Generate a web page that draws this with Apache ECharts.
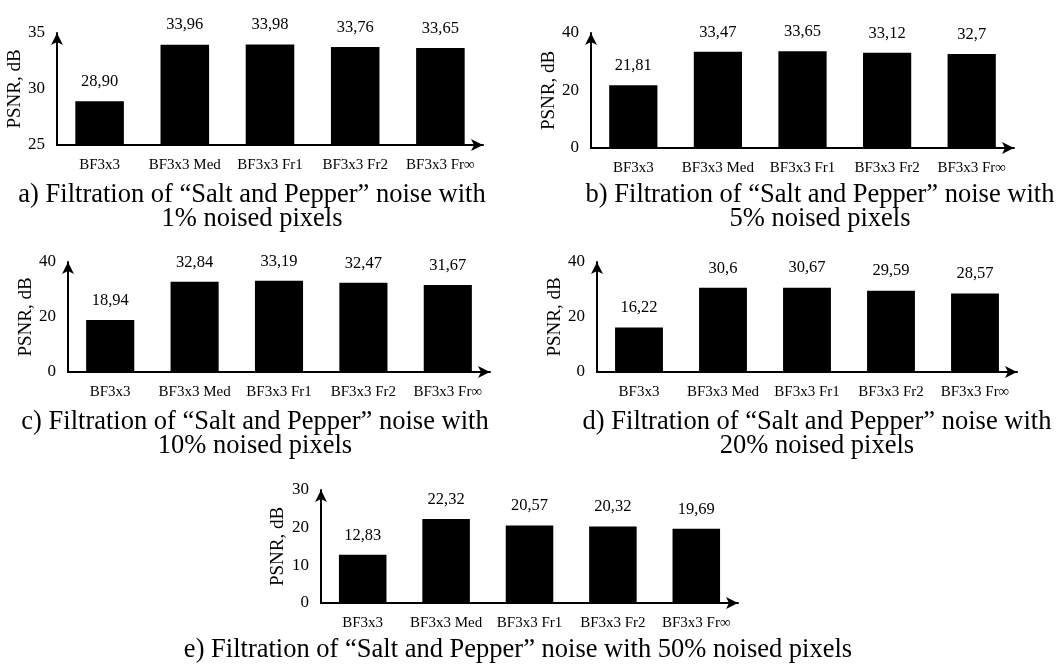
<!DOCTYPE html>
<html><head><meta charset="utf-8">
<script src="https://cdn.jsdelivr.net/npm/echarts@6/dist/echarts.min.js"></script>
<style>html,body{margin:0;padding:0;background:#fff}#c{width:1063px;height:664px}</style>
</head><body><div id="c"></div>
<script>
// ---- data ----
const categories = ['BF3x3', 'BF3x3 Med', 'BF3x3 Fr1', 'BF3x3 Fr2', 'BF3x3 Fr\u221E'];
const psnr1  = ['28,90', '33,96', '33,98', '33,76', '33,65'];
const psnr5  = ['21,81', '33,47', '33,65', '33,12', '32,7'];
const psnr10 = ['18,94', '32,84', '33,19', '32,47', '31,67'];
const psnr20 = ['16,22', '30,6', '30,67', '29,59', '28,57'];
const psnr50 = ['12,83', '22,32', '20,57', '20,32', '19,69'];
const yAxisA = [25, 35, 5];   // min, max, interval
const yAxisB = [0, 40, 20];
const yAxisC = [0, 40, 20];
const yAxisD = [0, 40, 20];
const yAxisE = [0, 30, 10];
const yAxisName = 'PSNR, dB';
const captions = [
  'a) Filtration of \u201CSalt and Pepper\u201D noise with\n1% noised pixels',
  'b) Filtration of \u201CSalt and Pepper\u201D noise with\n5% noised pixels',
  'c) Filtration of \u201CSalt and Pepper\u201D noise with\n10% noised pixels',
  'd) Filtration of \u201CSalt and Pepper\u201D noise with\n20% noised pixels',
  'e) Filtration of \u201CSalt and Pepper\u201D noise with 50% noised pixels'
];

// ---- layout ----
const FONT = "'Liberation Serif', 'Times New Roman', serif";
const panels = [
  {vals: psnr1,  y: yAxisA, left: 57,  top: 33,  width: 426, height: 112, gap: 32, cap: [247, 178]},
  {vals: psnr5,  y: yAxisB, left: 591, top: 33,  width: 423, height: 115, gap: 30, cap: [815, 178]},
  {vals: psnr10, y: yAxisC, left: 68,  top: 262, width: 422, height: 110, gap: 30, cap: [250, 405]},
  {vals: psnr20, y: yAxisD, left: 597, top: 262, width: 420, height: 110, gap: 30, cap: [812, 405]},
  {vals: psnr50, y: yAxisE, left: 321, top: 490, width: 417, height: 113, gap: 33, cap: [513, 633]}
];
const toNum = s => parseFloat(s.replace(',', '.'));

const grid = [], xAxis = [], yAxis = [], series = [], title = [];
panels.forEach((p, i) => {
  grid.push({left: p.left, top: p.top, width: p.width, height: p.height, containLabel: false});
  xAxis.push({
    type: 'category', gridIndex: i, data: categories,
    axisLine: {lineStyle: {color: '#000', width: 2}, symbol: ['none', 'arrow'], symbolSize: [9, 12]},
    axisTick: {show: false},
    axisLabel: {color: '#000', fontFamily: FONT, fontSize: 15, margin: 13, interval: 0}
  });
  yAxis.push({
    type: 'value', gridIndex: i, min: p.y[0], max: p.y[1], interval: p.y[2],
    name: yAxisName, nameLocation: 'middle', nameGap: p.gap,
    nameTextStyle: {color: '#000', fontFamily: FONT, fontSize: 19},
    axisLine: {show: true, lineStyle: {color: '#000', width: 2}, symbol: ['none', 'arrow'], symbolSize: [9, 12]},
    axisTick: {show: false},
    splitLine: {show: false},
    axisLabel: {color: '#000', fontFamily: FONT, fontSize: 17, margin: 12}
  });
  series.push({
    type: 'bar', xAxisIndex: i, yAxisIndex: i,
    data: p.vals.map(toNum),
    barWidth: '57%',
    itemStyle: {color: '#000'},
    label: {
      show: true, position: 'top', distance: 11, color: '#000', fontFamily: FONT, fontSize: 16.5,
      formatter: d => p.vals[d.dataIndex]
    },
    animation: false
  });
  title.push({
    text: captions[i], left: p.cap[0], top: p.cap[1], textAlign: 'center',
    textStyle: {color: '#000', fontFamily: FONT, fontSize: 26.5, fontWeight: 'normal', lineHeight: 24}
  });
});

const chart = echarts.init(document.getElementById('c'));
chart.setOption({backgroundColor: '#fff', animation: false, title, grid, xAxis, yAxis, series});
</script>
</body></html>
